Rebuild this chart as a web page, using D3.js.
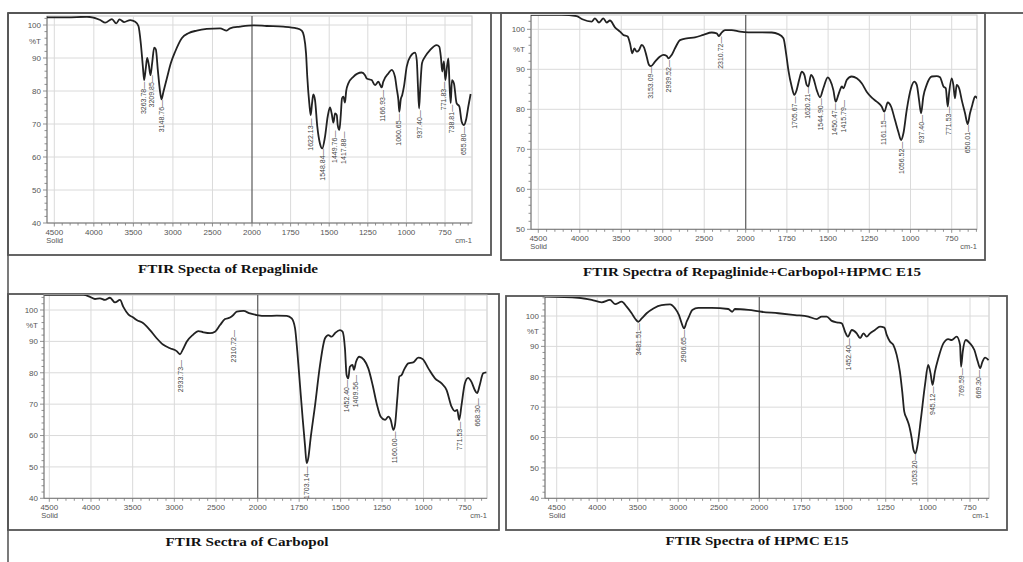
<!DOCTYPE html>
<html><head><meta charset="utf-8">
<script src="https://cdn.jsdelivr.net/npm/d3@7"></script>
<style>
html,body{margin:0;padding:0;background:#fff;}
svg{display:block;}
</style></head>
<body>
<svg id="chart" width="1023" height="562"></svg>
<script>
// ---------------- DATA ----------------
const titles = [
  "FTIR Specta of Repaglinide",
  "FTIR Spectra of Repaglinide+Carbopol+HPMC E15",
  "FTIR Sectra of Carbopol",
  "FTIR Spectra of HPMC E15"
];
const xTickLabels = [4500, 4000, 3500, 3000, 2500, 2000, 1750, 1500, 1250, 1000, 750];
const yTicksA = [40, 50, 60, 70, 80, 90, 100];
const yTicksB = [50, 60, 70, 80, 90, 100];

// wavenumber (cm-1), %T
const repaglinide = [
 [4592,102.3],[4340,102.3],[4087,102.5],[3919,101.5],[3856,100.7],[3771,101.8],[3717,100.5],[3675,101.7],
 [3616,100.9],[3540,101.5],[3477,101],[3436,99.7],[3406,94.4],[3380,87.4],[3364,83.3],[3343,86.9],[3326,90],
 [3305,88],[3284,84.8],[3263,88.4],[3237,93.1],[3216,92.6],[3191,86.4],[3165,80.3],[3145,77.5],[3120,79.8],
 [3077,83.8],[3027,88.4],[2972,91.9],[2888,96],[2804,97.5],[2698,98.3],[2572,98.8],[2404,99],[2320,98.3],
 [2278,99],[2152,99.5],[1991,99.9],[1905,99.7],[1797,99.5],[1711,99],[1678,98.3],[1663,96.5],[1650,91.4],
 [1642,84.3],[1629,76.3],[1620,72.7],[1611,76.3],[1603,79],[1592,77.3],[1577,69.2],[1560,64.1],[1545,62.6],
 [1527,66.2],[1510,72.2],[1495,75],[1484,73.2],[1473,70.4],[1462,73.2],[1451,72.7],[1445,69.7],[1434,68.2],
 [1425,72.7],[1417,77.8],[1408,78.3],[1398,76.5],[1390,80],[1376,82.3],[1344,84.3],[1290,85.6],[1268,84.8],
 [1257,83.8],[1225,83.3],[1203,81.8],[1182,82.8],[1160,81.1],[1150,82.8],[1117,85.3],[1095,86.4],[1074,84.3],
 [1063,80.8],[1052,77.3],[1046,73.7],[1037,77.3],[1027,78.8],[1016,81.3],[998,87.4],[972,90.6],[944,91.6],
 [933,89.4],[925,81.3],[918,74.7],[910,81.3],[899,88.4],[879,90.4],[847,92.4],[804,93.9],[787,93.4],[776,90],
 [768,85.9],[757,89],[748,83.3],[737,87.4],[728,89.9],[721,82.3],[713,76.3],[705,83.3],[692,82.3],[675,76.3],
 [657,75.3],[642,70.7],[627,69.7],[614,71.2],[599,75.3],[584,79.1]
];
const mixture = [
 [4592,103.6],[4219,103.6],[4038,103.3],[3969,102.5],[3857,101.9],[3817,102.75],[3768,101.7],[3716,102.75],
 [3676,101.7],[3636,102.2],[3576,100.5],[3515,99.4],[3475,98.6],[3423,98.2],[3395,96.5],[3367,94],[3342,95.25],
 [3314,94.4],[3286,94.8],[3254,96.1],[3226,95.5],[3194,93.2],[3166,91.1],[3142,90.8],[3093,91.9],[3033,93.2],
 [2993,93.6],[2952,93.3],[2932,92.75],[2892,93.6],[2852,95.25],[2792,97.3],[2711,97.75],[2611,98],[2510,98.6],
 [2410,99.2],[2350,99],[2322,98.3],[2297,99],[2249,99.8],[2169,99.8],[2068,99.4],[1984,99.25],[1903,99.25],
 [1842,99.2],[1802,98.8],[1771,97.75],[1755,94],[1741,89.8],[1721,85.7],[1705,83.6],[1691,84.8],[1676,87.3],
 [1660,89.4],[1644,88.6],[1630,86.1],[1620,85.7],[1604,88.6],[1589,87.75],[1569,84.8],[1549,83],[1529,85.25],
 [1502,88],[1488,87.3],[1468,84.8],[1454,81.9],[1438,83.6],[1428,84.8],[1417,85.7],[1407,85.25],[1387,87.3],
 [1357,88.2],[1326,87.75],[1296,86.5],[1266,84.4],[1235,82.9],[1205,81.9],[1175,80.7],[1159,79.4],[1138,81.7],
 [1118,80.7],[1094,77.3],[1074,74.4],[1057,72.3],[1043,74],[1023,79.8],[997,85.25],[977,86.9],[962,86.1],
 [948,82.3],[936,79],[922,83.2],[902,86.1],[871,88.2],[841,88.3],[821,88],[800,85.7],[786,85.25],[774,80.7],
 [766,84],[750,87.75],[740,86.1],[730,82.75],[720,86.1],[705,85.25],[689,82.3],[669,79],[653,76.3],[639,79],
 [625,81.1],[608,83.2],[594,82.75]
];
const carbopol = [
 [4560,104.8],[4092,104.8],[4012,104.2],[3952,103.5],[3892,103.7],[3832,103.2],[3772,103.9],[3712,102.4],
 [3652,103.2],[3612,101],[3552,98.6],[3492,97.6],[3452,96.8],[3372,95.8],[3292,93.6],[3212,91],[3132,88.9],
 [3052,87.8],[2972,86.9],[2932,85.9],[2900,87.3],[2852,89.9],[2780,92],[2712,93.3],[2652,92.9],[2572,92.6],
 [2512,93.1],[2452,95.2],[2392,97.1],[2332,97.6],[2292,98.4],[2252,99.5],[2172,99.7],[2092,98.9],[2012,98.4],
 [1946,98.1],[1885,98.2],[1825,98.1],[1795,97.3],[1775,94.2],[1761,86.7],[1745,76.1],[1729,65.5],[1715,57],
 [1705,51.2],[1695,52.8],[1681,59.1],[1654,69.7],[1624,82.5],[1594,91],[1574,92],[1554,91.5],[1534,92.6],
 [1504,93.6],[1488,93.1],[1474,87.8],[1464,79.3],[1454,78.2],[1444,81.9],[1428,82.5],[1420,80.9],[1407,83.5],
 [1387,85.1],[1359,84.1],[1333,81.4],[1307,76.1],[1283,70.3],[1258,66],[1232,65],[1212,66],[1198,65],
 [1182,61.8],[1172,63.4],[1158,71.9],[1146,78.8],[1132,79.3],[1118,80.9],[1092,83],[1062,83.3],[1032,84.8],
 [1006,84.4],[971,81.4],[931,78.2],[891,76.6],[861,74.5],[831,69.2],[811,67.8],[797,68.2],[785,65],[771,69.7],
 [751,76.6],[731,78.4],[711,77.1],[691,74.5],[677,73.5],[661,76.1],[641,79.8],[621,80.1]
];
const hpmc = [
 [4644,106.4],[4233,106],[4068,105.3],[3945,104.5],[3842,105.3],[3780,103.9],[3698,104.7],[3637,103.1],
 [3575,100.9],[3534,99.2],[3493,98.1],[3451,99.2],[3390,100.9],[3307,102.5],[3205,103.6],[3102,103.8],
 [3040,102.5],[2991,100.3],[2958,97.6],[2929,95.9],[2897,98.1],[2868,99.8],[2827,102],[2753,102.7],
 [2588,102.7],[2383,102.3],[2334,101.4],[2301,102.3],[2136,102],[1986,101.4],[1887,100.9],[1788,100.3],
 [1709,99.8],[1659,99],[1630,99.8],[1600,99.8],[1570,98.4],[1540,97.9],[1511,97.6],[1491,94.8],[1475,93.2],
 [1451,95.4],[1422,94.3],[1402,92.7],[1382,94.3],[1363,93.2],[1343,94.3],[1314,95.4],[1284,96.5],[1258,96.2],
 [1244,93.8],[1225,91.6],[1205,90.5],[1185,87.2],[1166,81.7],[1152,75.1],[1140,68.5],[1126,66.3],[1112,64.1],
 [1096,59.8],[1085,55.9],[1073,54.8],[1061,57.6],[1041,66.3],[1017,77.3],[998,83.9],[984,81.1],[972,77.3],
 [958,81.7],[938,86.1],[908,91],[879,92.4],[859,92.1],[829,93.2],[809,90.5],[803,83.3],[793,88.3],[775,92.1],
 [750,91],[724,88.8],[704,85],[690,82.8],[676,85],[660,86.3],[640,85.5]
];

// peak labels: [text, wavenumber at label, %T at label top]
const repaglinidePeaks = [
 ["3263.78",3372,82.8],["3209.85",3266,84.8],["3148.76",3140,77.3],["1622.13",1620,71.7],["1548.84",1542,62.6],
 ["1449.76",1462,68],["1417.88",1408,67.7],["1166.93",1156,80.3],["1060.65",1048,73.2],["937.40",916,74.2],
 ["771.83",761,82.8],["738.81",707,75.8],["655.80",627,69.2]
];
const mixturePeaks = [
 ["3153.09",3150,90.7],["2939.52",2932,92.3],["2310.72",2301,98.2],["1705.67",1705,83.2],["1620.21",1626,85.7],
 ["1544.90",1545,82.75],["1450.47",1458,81.5],["1415.79",1403,82.3],["1161.15",1165,79],["1056.52",1053,71.9],
 ["937.40",932,78.6],["771.53",770,80.7],["650.01",653,76.1]
];
const carbopolPeaks = [
 ["2933.73",2920,84.1],["2310.72",2292,93.6],["1703.14",1705,50.1],["1452.40",1463,77.7],["1409.56",1407,79.3],
 ["1160.00",1172,61.3],["771.53",780,64.4],["668.30",676,71.9]
];
const hpmcPeaks = [
 ["3481.51",3493,97.6],["2906.65",2929,95.4],["1452.40",1472,92.7],["1053.20",1076,54.8],["945.12",972,76.8],
 ["769.59",799,82.8],["669.30",697,82.2]
];

// ---------------- LAYOUT ----------------
const panels = [
 {title:titles[0], data:repaglinide, peaks:repaglinidePeaks, yTicks:yTicksA,
  box:[8,13,491,255], plot:[47,16,472,223], xPx:[54.3,252,445], yPx:[223,25], capX:228, capY:273, capW:180},
 {title:titles[1], data:mixture, peaks:mixturePeaks, yTicks:yTicksB,
  box:[501,13,985,260], plot:[531,15,977,229.3], xPx:[538.3,745.7,951.7], yPx:[229.3,29.3], capX:752, capY:276, capW:338},
 {title:titles[2], data:carbopol, peaks:carbopolPeaks, yTicks:yTicksA,
  box:[8,294,499,530], plot:[44,295,487,498.3], xPx:[49.3,257.7,465], yPx:[498.3,310], capX:247, capY:546, capW:163},
 {title:titles[3], data:hpmc, peaks:hpmcPeaks, yTicks:yTicksA,
  box:[506,296,1007,530], plot:[545,297,989,498.3], xPx:[556.7,759.3,970], yPx:[498.3,316], capX:757, capY:545, capW:183}
];

const svg = d3.select("#chart");
svg.append("rect").attr("width",1023).attr("height",562).attr("fill","#fff");

// figure lines
svg.append("line").attr("x1",8).attr("x2",1023).attr("y1",13).attr("y2",13).attr("stroke","#333").attr("stroke-width",1.3);
svg.append("line").attr("x1",8).attr("x2",8).attr("y1",13).attr("y2",562).attr("stroke","#333").attr("stroke-width",1.3);

const tickFont = "'Liberation Sans', Arial, sans-serif";

panels.forEach((p, i) => {
  const [L,T,R,B] = p.plot;
  const yMin = p.yTicks[0];
  const x = d3.scaleLinear().domain([4500,2000,750]).range(p.xPx);
  const y = d3.scaleLinear().domain([yMin,100]).range(p.yPx);
  const g = svg.append("g");

  // outer box
  g.append("rect").attr("x",p.box[0]).attr("y",p.box[1])
    .attr("width",p.box[2]-p.box[0]).attr("height",p.box[3]-p.box[1])
    .attr("fill","none").attr("stroke","#555").attr("stroke-width",1.8);

  // plot frame
  g.append("rect").attr("x",L).attr("y",T).attr("width",R-L).attr("height",B-T)
    .attr("fill","none").attr("stroke","#c4c4c4").attr("stroke-width",1);

  // grid
  g.selectAll(null).data(p.yTicks.filter(v=>v>yMin)).enter().append("line")
    .attr("x1",L).attr("x2",R).attr("y1",d=>y(d)).attr("y2",d=>y(d))
    .attr("stroke","#dadada").attr("stroke-width",1);
  g.selectAll(null).data(xTickLabels.filter(v=>v!==2000)).enter().append("line")
    .attr("x1",d=>x(d)).attr("x2",d=>x(d)).attr("y1",T).attr("y2",B)
    .attr("stroke","#dadada").attr("stroke-width",1);
  g.append("line").attr("x1",x(2000)).attr("x2",x(2000)).attr("y1",T).attr("y2",B)
    .attr("stroke","#666").attr("stroke-width",1.3);

  // axes lines
  g.append("line").attr("x1",L).attr("x2",L).attr("y1",T).attr("y2",B).attr("stroke","#777");
  g.append("line").attr("x1",L).attr("x2",R).attr("y1",B).attr("y2",B).attr("stroke","#777");

  // y minor ticks
  const yMinor = d3.range(yMin, 106.1, 2).filter(v => y(v) >= T);
  g.selectAll(null).data(yMinor).enter().append("line")
    .attr("x1",d=>L-(d%10===0?4:2.5)).attr("x2",L).attr("y1",d=>y(d)).attr("y2",d=>y(d))
    .attr("stroke","#777").attr("stroke-width",0.8);
  // x minor ticks
  const xMinor = d3.range(4600, 2000, -100).concat(d3.range(2000, 549, -50))
    .filter(v => x(v) >= L && x(v) <= R);
  g.selectAll(null).data(xMinor).enter().append("line")
    .attr("x1",d=>x(d)).attr("x2",d=>x(d)).attr("y1",B).attr("y2",d=>B+(xTickLabels.includes(d)?3.5:2.5))
    .attr("stroke","#777").attr("stroke-width",0.8);

  // y labels
  g.selectAll(null).data(p.yTicks).enter().append("text")
    .attr("x",L-6).attr("y",d=>y(d)+2.8).attr("text-anchor","end")
    .attr("font-family",tickFont).attr("font-size",8).attr("fill","#555").text(d=>d);
  g.append("text").attr("x",L-6).attr("y",y(95)+2.8).attr("text-anchor","end")
    .attr("font-family",tickFont).attr("font-size",8).attr("fill","#555").text("%T");

  // x labels
  g.selectAll(null).data(xTickLabels).enter().append("text")
    .attr("x",d=>x(d)).attr("y",B+12).attr("text-anchor","middle")
    .attr("font-family",tickFont).attr("font-size",8).attr("fill","#555").text(d=>d);
  g.append("text").attr("x",x(4500)-8).attr("y",B+19.5)
    .attr("font-family",tickFont).attr("font-size",7.5).attr("fill","#555").text("Solid");
  g.append("text").attr("x",R).attr("y",B+19.5).attr("text-anchor","end")
    .attr("font-family",tickFont).attr("font-size",7.5).attr("fill","#555").text("cm-1");

  // curve
  const clipId = "clip"+i;
  svg.append("clipPath").attr("id",clipId).append("rect")
    .attr("x",L).attr("y",T).attr("width",R-L).attr("height",B-T);
  const line = d3.line().x(d=>x(d[0])).y(d=>y(d[1])).curve(d3.curveMonotoneX);
  g.append("path").datum(p.data).attr("d",line).attr("clip-path","url(#"+clipId+")")
    .attr("fill","none").attr("stroke","#222").attr("stroke-width",1.8).attr("stroke-linejoin","round");

  // peak labels
  g.selectAll(null).data(p.peaks).enter().append("text")
    .attr("transform",d=>`translate(${x(d[1])+2.3},${y(d[2])}) rotate(-90)`)
    .attr("text-anchor","end")
    .attr("font-family",tickFont).attr("font-size",7).attr("fill","#444")
    .text(d=>d[0]+"\u2014");

  // caption
  g.append("text").attr("x",p.capX - p.capW/2).attr("y",p.capY)
    .attr("textLength",p.capW).attr("lengthAdjust","spacingAndGlyphs")
    .attr("font-family","'Liberation Serif','Times New Roman',serif").attr("font-weight","bold")
    .attr("font-size",13).attr("fill","#111").text(p.title);
});
</script>
</body></html>
